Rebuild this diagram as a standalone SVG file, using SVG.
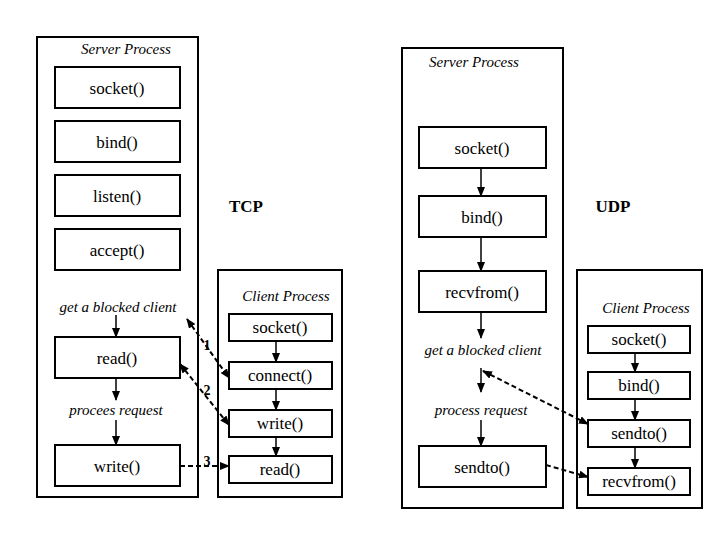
<svg xmlns="http://www.w3.org/2000/svg" width="720" height="540" viewBox="0 0 720 540">
<defs>
<style>
rect{fill:#fff;stroke:#000;stroke-width:2}
.f{fill:none;stroke:#000;stroke-width:2}
text{font-family:"Liberation Serif",serif;font-size:17px;text-anchor:middle}
.i{font-style:italic;font-size:15px}
.b{font-weight:bold}
.a{stroke:#000;stroke-width:1.5;fill:none;marker-end:url(#ah)}
.d{stroke:#000;stroke-width:2;fill:none;stroke-dasharray:5,3;marker-end:url(#ah)}
.dd{marker-start:url(#as)}
</style>
<marker id="ah" markerWidth="10" markerHeight="8" refX="9" refY="4" orient="auto" markerUnits="userSpaceOnUse"><path d="M0,0L10,4L0,8z"/></marker>
<marker id="as" markerWidth="10" markerHeight="8" refX="1" refY="4" orient="auto" markerUnits="userSpaceOnUse"><path d="M10,0L0,4L10,8z"/></marker>
</defs>
<rect x="0" y="0" width="720" height="540" style="stroke:none"/>
<g id="tcp-server">
<rect class="f" x="37" y="37" width="161" height="460"/>
<text class="i" x="126" y="54">Server Process</text>
</g>
<g id="t-socket"><rect x="55" y="67" width="125" height="41"/><text x="117" y="94">socket()</text></g>
<g id="t-bind"><rect x="55" y="121" width="125" height="41"/><text x="117" y="148">bind()</text></g>
<g id="t-listen"><rect x="55" y="175" width="125" height="41"/><text x="117" y="202">listen()</text></g>
<g id="t-accept"><rect x="55" y="229" width="125" height="41"/><text x="117" y="256">accept()</text></g>
<g id="t-blocked"><text class="i" x="118" y="312">get a blocked client</text></g>
<g id="t-read"><rect x="55" y="337" width="125" height="41"/><text x="117" y="364">read()</text></g>
<g id="t-proc"><text class="i" x="116" y="415">procees request</text></g>
<g id="t-write"><rect x="55" y="445" width="125" height="41"/><text x="117" y="472">write()</text></g>
<g id="tcp-label"><text class="b" x="246" y="212">TCP</text></g>
<g id="tcp-client">
<rect class="f" x="218" y="270" width="124" height="227"/>
<text class="i" x="286" y="301">Client Process</text>
</g>
<g id="c-socket"><rect x="229" y="314" width="103" height="27"/><text x="280" y="333">socket()</text></g>
<g id="c-connect"><rect x="229" y="362" width="103" height="27"/><text x="280" y="381">connect()</text></g>
<g id="c-write"><rect x="229" y="410" width="103" height="27"/><text x="280" y="429">write()</text></g>
<g id="c-read"><rect x="229" y="456" width="103" height="27"/><text x="280" y="475">read()</text></g>
<g id="udp-server">
<rect class="f" x="402" y="48" width="161" height="460"/>
<text class="i" x="474" y="67">Server Process</text>
</g>
<g id="u-socket"><rect x="419" y="127" width="127" height="41"/><text x="482" y="154">socket()</text></g>
<g id="u-bind"><rect x="419" y="196" width="127" height="41"/><text x="482" y="223">bind()</text></g>
<g id="u-recv"><rect x="419" y="271" width="127" height="41"/><text x="482" y="298">recvfrom()</text></g>
<g id="u-blocked"><text class="i" x="483" y="355">get a blocked client</text></g>
<g id="u-proc"><text class="i" x="481" y="415">process request</text></g>
<g id="u-sendto"><rect x="419" y="446" width="127" height="41"/><text x="482" y="473">sendto()</text></g>
<g id="udp-label"><text class="b" x="613" y="212">UDP</text></g>
<g id="udp-client">
<rect class="f" x="577" y="270" width="125" height="238"/>
<text class="i" x="646" y="313">Client Process</text>
</g>
<g id="uc-socket"><rect x="588" y="326" width="102" height="27"/><text x="639" y="345">socket()</text></g>
<g id="uc-bind"><rect x="588" y="372" width="102" height="27"/><text x="639" y="391">bind()</text></g>
<g id="uc-sendto"><rect x="588" y="420" width="102" height="27"/><text x="639" y="439">sendto()</text></g>
<g id="uc-recv"><rect x="588" y="468" width="102" height="27"/><text x="639" y="487">recvfrom()</text></g>
<g id="connectors">
<line class="a" x1="116" y1="315" x2="116" y2="337"/>
<line class="a" x1="116" y1="378" x2="116" y2="400"/>
<line class="a" x1="116" y1="420" x2="116" y2="445"/>
<line class="a" x1="276" y1="341" x2="276" y2="362"/>
<line class="a" x1="276" y1="389" x2="276" y2="410"/>
<line class="a" x1="276" y1="437" x2="276" y2="456"/>
<line class="a" x1="481" y1="168" x2="481" y2="196"/>
<line class="a" x1="481" y1="237" x2="481" y2="271"/>
<line class="a" x1="481" y1="312" x2="481" y2="338"/>
<line class="a" x1="481" y1="368" x2="481" y2="392"/>
<line class="a" x1="481" y1="420" x2="481" y2="446"/>
<line class="a" x1="635" y1="353" x2="635" y2="372"/>
<line class="a" x1="635" y1="399" x2="635" y2="420"/>
<line class="a" x1="635" y1="447" x2="635" y2="468"/>
<line class="d dd" x1="187" y1="319" x2="229" y2="378"/>
<line class="d dd" x1="180" y1="364" x2="229" y2="425"/>
<line class="d" x1="180" y1="466" x2="229" y2="466"/>
<line class="d dd" x1="483" y1="371" x2="588" y2="424"/>
<line class="d" x1="546" y1="465" x2="588" y2="477"/>
<text class="b" x="207" y="350" style="font-size:14px">1</text>
<text class="b" x="207" y="395" style="font-size:14px">2</text>
<text class="b" x="207" y="466" style="font-size:14px">3</text>
</g>
</svg>
